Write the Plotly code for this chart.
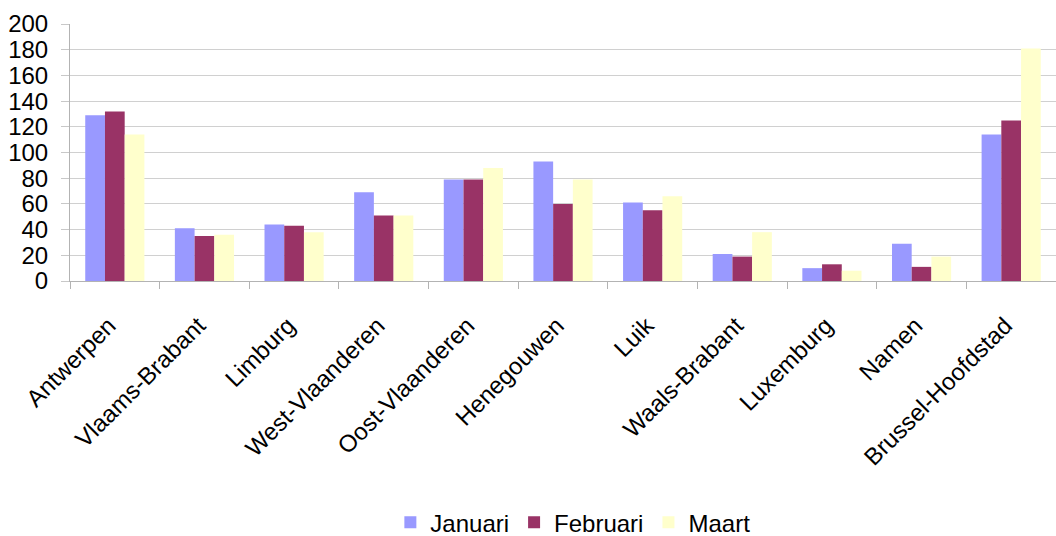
import plotly.graph_objects as go

provinces = [
    "Antwerpen", "Vlaams-Brabant", "Limburg", "West-Vlaanderen",
    "Oost-Vlaanderen", "Henegouwen", "Luik", "Waals-Brabant",
    "Luxemburg", "Namen", "Brussel-Hoofdstad",
]
januari = [129, 41, 44, 69, 79, 93, 61, 21, 10, 29, 114]
februari = [132, 35, 43, 51, 79, 60, 55, 19, 13, 11, 125]
maart = [114, 36, 38, 51, 88, 79, 66, 38, 8, 19, 181]

series = [
    ("Januari", januari, "#9999FF"),
    ("Februari", februari, "#993366"),
    ("Maart", maart, "#FFFFCC"),
]

fig = go.Figure()
for name, values, color in series:
    fig.add_trace(go.Bar(x=provinces, y=values, name=name, marker=dict(color=color, line=dict(width=0))))

font = dict(family="Liberation Sans, Arial, sans-serif", size=24, color="#000000")

fig.update_layout(
    width=1056,
    height=536,
    margin=dict(l=70, r=0, t=24, b=255, autoexpand=False),
    plot_bgcolor="white",
    paper_bgcolor="white",
    font=font,
    barmode="group",
    bargap=0.34,
    bargroupgap=0,
    legend=dict(
        orientation="h",
        yref="paper",
        y=-0.94,
        yanchor="middle",
        x=0.51,
        xanchor="center",
        font=font,
        itemwidth=30,
        tracegroupgap=0,
    ),
    xaxis=dict(
        tickangle=-45,
        showline=True,
        linecolor="#b3b3b3",
        linewidth=1,
        ticks="outside",
        tickson="boundaries",
        ticklen=7,
        tickcolor="#b3b3b3",
        showgrid=False,
        tickfont=font,
        automargin=False,
        ticklabelstandoff=20,
        ticklabelshift=-6,
    ),
    yaxis=dict(
        range=[0, 200],
        dtick=20,
        showline=True,
        linecolor="#b3b3b3",
        linewidth=1,
        ticks="outside",
        ticklen=8,
        tickcolor="#c8c8c8",
        showgrid=True,
        gridcolor="#d0d0d0",
        gridwidth=1,
        zeroline=False,
        tickfont=font,
        ticklabelstandoff=8,
        automargin=False,
    ),
)

# the page body has a default 8px margin; drop it so the figure fills the window
fig.write_html(
    "out.html",
    config={"displayModeBar": False},
    post_script="document.body.style.margin='0';",
)
